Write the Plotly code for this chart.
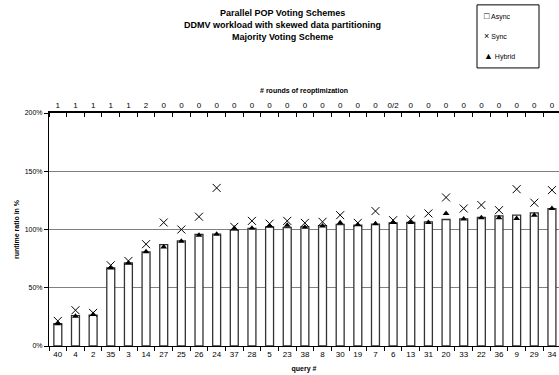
import plotly.graph_objects as go

queries = ["40","4","2","35","3","14","27","25","26","24","37","28","5","23","38","8","30","19","7","6","13","31","20","33","22","36","9","29","34"]
rounds = ["1","1","1","1","1","2","0","0","0","0","0","0","0","0","0","0","0","0","0","0/2","0","0","0","0","0","0","0","0","0"]
async_vals = [19.2,26,26.4,67,71.3,80.8,87.1,90.3,95.7,96,99.4,100.9,102.3,101.7,102.3,103.4,104.3,103.7,104.6,105.7,106,106.6,108.6,109.2,110.3,111.7,112.3,114.3,118]
sync_vals = [21.5,30.7,28.4,69.3,73,87.4,106,100,111,135.7,102.3,107.4,105,107.4,105.7,106.6,112.3,105.7,115.8,108,108.6,113.8,127.5,118,121,116.6,134.6,123,133.8]
hybrid_vals = [19,25.5,27,67,71,81,85,90,95,96,101,101,103,103.7,102,103,105.7,104,105,106,106,106,113.8,109,110,110,109.5,112.3,118]
title_lines = ["Parallel POP Voting Schemes", "DDMV workload with skewed data partitioning", "Majority Voting Scheme"]
legend_items = [("□", "Async"), ("×", "Sync"), ("▲", "Hybrid")]

x = list(range(len(queries)))
FONT = "Liberation Sans, Arial, sans-serif"

# plot area in pixels
L, R, T, B = 49, 559, 113, 345.7
def py(p):  # pixel y -> paper y
    return (B - p) / (B - T)
def px(p):  # pixel x -> paper x
    return (p - L) / (R - L)

fig = go.Figure()
fig.add_trace(go.Bar(x=x, y=async_vals, name="Async", width=0.45, showlegend=False,
                     marker=dict(color="white", line=dict(color="#333333", width=1.3))))
fig.add_trace(go.Scatter(x=x, y=sync_vals, name="Sync", mode="markers", showlegend=False,
                         marker=dict(symbol="x-thin-open", size=8, color="black",
                                     line=dict(color="black", width=1))))
fig.add_trace(go.Scatter(x=x, y=hybrid_vals, name="Hybrid", mode="markers", showlegend=False,
                         marker=dict(symbol="triangle-up", size=6, color="black")))
# invisible trace to anchor the top axis
fig.add_trace(go.Scatter(x=x, y=async_vals, xaxis="x2", mode="markers",
                         marker=dict(opacity=0), showlegend=False, hoverinfo="skip"))

rng = [-0.5, 28.4]
boundaries = [i + 0.5 for i in range(-1, len(queries))]

annotations = []
for i, line in enumerate(title_lines):
    annotations.append(dict(text="<b>%s</b>" % line, x=px(282), y=py(13 + 12 * i),
                            xref="paper", yref="paper", xanchor="center", yanchor="middle",
                            showarrow=False, font=dict(size=9, family=FONT, color="black")))
for i, (sym, name) in enumerate(legend_items):
    annotations.append(dict(text='<span style="font-size:9px">%s</span> %s' % (sym, name),
                            x=px(482), y=py(16 + 20 * i),
                            xref="paper", yref="paper", xanchor="left", yanchor="middle",
                            showarrow=False, font=dict(size=7, family=FONT, color="black")))

shapes = [dict(type="rect", xref="paper", yref="paper",
               x0=px(477), x1=px(539), y0=py(68), y1=py(5),
               line=dict(color="black", width=1), fillcolor="white", layer="above")]

fig.update_layout(
    width=559, height=375,
    margin=dict(l=L, r=0, t=T, b=29),
    paper_bgcolor="white", plot_bgcolor="white",
    font=dict(family=FONT, size=8, color="black"),
    showlegend=False,
    annotations=annotations,
    shapes=shapes,
    xaxis=dict(range=rng, tickvals=x, ticktext=queries, ticks="", showline=True,
               linecolor="black", linewidth=1, showgrid=False, zeroline=False,
               tickfont=dict(size=8),
               title=dict(text="<b>query #</b>", font=dict(size=7), standoff=8),
               minor=dict(tickvals=boundaries, ticks="outside", ticklen=4,
                          tickcolor="black", tickwidth=1, showgrid=False)),
    xaxis2=dict(range=rng, overlaying="x", side="top", tickvals=x, ticktext=rounds,
                ticks="", showline=True, linecolor="black", linewidth=1.5,
                showgrid=False, zeroline=False, tickfont=dict(size=8),
                title=dict(text="<b># rounds of reoptimization</b>", font=dict(size=7), standoff=7),
                minor=dict(tickvals=boundaries, ticks="inside", ticklen=4,
                           tickcolor="black", tickwidth=1, showgrid=False)),
    yaxis=dict(range=[0, 200], tickvals=[0, 50, 100, 150, 200],
               ticktext=["0%", "50%", "100%", "150%", "200%"],
               ticks="outside", ticklen=4, tickcolor="black", showline=True,
               linecolor="black", linewidth=1, showgrid=True, gridcolor="#808080",
               gridwidth=1, zeroline=False, tickfont=dict(size=7),
               title=dict(text="<b>runtime ratio in %</b>", font=dict(size=7), standoff=4)),
)

fig.write_html("out.html")
